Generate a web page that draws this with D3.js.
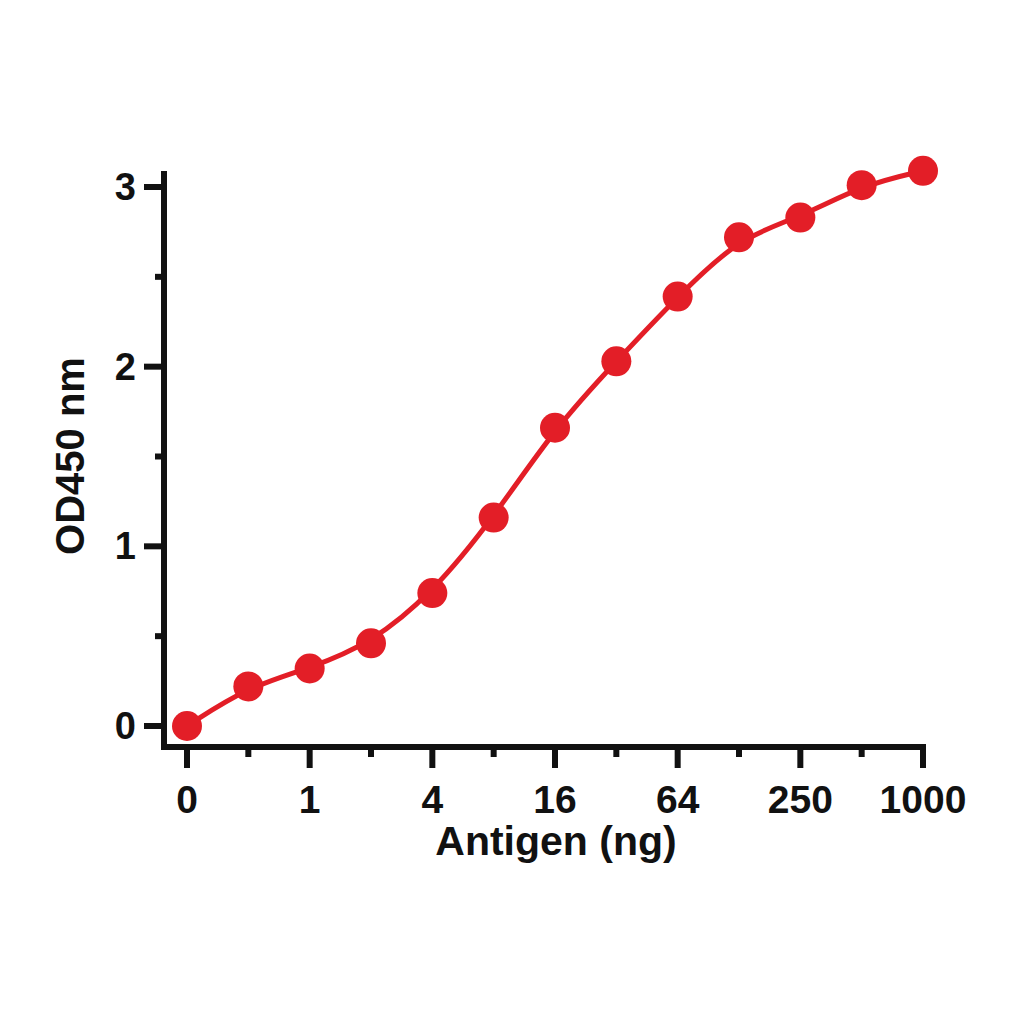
<!DOCTYPE html>
<html>
<head>
<meta charset="utf-8">
<script src="https://cdn.jsdelivr.net/npm/d3@7"></script>
<style>
  html, body { margin: 0; padding: 0; background: #fff; }
  text { font-family: "Liberation Sans", Arial, sans-serif; font-weight: bold; fill: #111; }
</style>
</head>
<body>
<svg id="chart" width="1024" height="1024"></svg>
<script>
// dilution steps (index on x) and readings
const doses = ['0', '', '1', '', '4', '', '16', '', '64', '', '250', '', '1000'];
const od450 = [0.0, 0.22, 0.32, 0.46, 0.74, 1.16, 1.66, 2.03, 2.39, 2.72, 2.83, 3.01, 3.09];
const yTicks = [0, 1, 2, 3];
const yMinorTicks = [0.5, 1.5, 2.5];

const red = '#e31e27';
const ink = '#111';

const svg = d3.select('#chart');

const x = d3.scaleLinear().domain([0, doses.length - 1]).range([187, 923]);
const y = d3.scaleLinear().domain([0, 3]).range([726, 187]);

const axisX = 164;
const axisY = 747;
const sw = 6;

// y axis
const gy = svg.append('g');
gy.append('line')
  .attr('x1', axisX).attr('x2', axisX)
  .attr('y1', 171).attr('y2', axisY + sw / 2)
  .attr('stroke', ink).attr('stroke-width', sw);
gy.selectAll('line.major').data(yTicks).enter().append('line')
  .attr('class', 'major')
  .attr('x1', 144).attr('x2', axisX)
  .attr('y1', d => y(d)).attr('y2', d => y(d))
  .attr('stroke', ink).attr('stroke-width', sw);
gy.selectAll('line.minor').data(yMinorTicks).enter().append('line')
  .attr('class', 'minor')
  .attr('x1', 155).attr('x2', axisX)
  .attr('y1', d => y(d)).attr('y2', d => y(d))
  .attr('stroke', ink).attr('stroke-width', sw);
gy.selectAll('text').data(yTicks).enter().append('text')
  .attr('x', 136).attr('y', d => y(d) + 13)
  .attr('text-anchor', 'end')
  .style('font-size', '38px')
  .text(d => d);

// x axis
const gx = svg.append('g');
gx.append('line')
  .attr('x1', axisX - sw / 2).attr('x2', 926)
  .attr('y1', axisY).attr('y2', axisY)
  .attr('stroke', ink).attr('stroke-width', sw);
gx.selectAll('line.tick').data(doses).enter().append('line')
  .attr('class', 'tick')
  .attr('x1', (d, i) => x(i)).attr('x2', (d, i) => x(i))
  .attr('y1', axisY).attr('y2', d => d ? 768 : 757)
  .attr('stroke', ink).attr('stroke-width', sw);
gx.selectAll('text').data(doses).enter().append('text')
  .attr('x', (d, i) => x(i)).attr('y', 813)
  .attr('text-anchor', 'middle')
  .style('font-size', '39px')
  .text(d => d);

// axis titles
svg.append('text')
  .attr('x', 556).attr('y', 855)
  .attr('text-anchor', 'middle')
  .style('font-size', '41px')
  .text('Antigen (ng)');
svg.append('text')
  .attr('transform', 'translate(84,456) rotate(-90)')
  .attr('text-anchor', 'middle')
  .style('font-size', '40px')
  .text('OD450 nm');

// fitted curve and points
const line = d3.line()
  .x((d, i) => x(i))
  .y(d => y(d))
  .curve(d3.curveBasis);

svg.append('path')
  .datum(od450)
  .attr('d', line)
  .attr('fill', 'none')
  .attr('stroke', red)
  .attr('stroke-width', 5);

svg.selectAll('circle').data(od450).enter().append('circle')
  .attr('cx', (d, i) => x(i))
  .attr('cy', d => y(d))
  .attr('r', 15)
  .attr('fill', red);
</script>
</body>
</html>
